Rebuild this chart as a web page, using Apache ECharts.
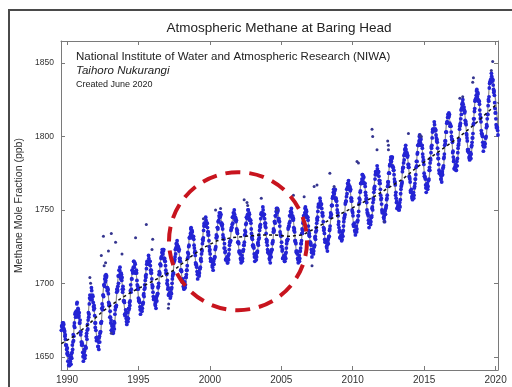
<!DOCTYPE html>
<html>
<head>
<meta charset="utf-8">
<script src="https://cdn.jsdelivr.net/npm/echarts@6/dist/echarts.min.js"></script>
<style>html,body{margin:0;padding:0;background:#fff}#chart{width:512px;height:387px}</style>
</head>
<body>
<div id="chart"></div>
<script>
const FONT = '"Liberation Sans", Arial, Helvetica, sans-serif'
const BLUE = '#2424d4', OUT = '#35358f', FIT = '#8c8c8c', AXIS = '#7a7a7a', RED = '#c8141e'

const xTicks = [1990, 1995, 2000, 2005, 2010, 2015, 2020]
const yTicks = [1650, 1700, 1750, 1800, 1850]

// flask samples, two sets of 24 per year (about weekly in total); first row is 1989 (record starts Aug 1989)
const firstYear = 1989
const flaskRows = [
  [null,null,null,null,null,null,null,null,null,null,null,null,null,null,1668,1671,1673,1670,1672,1668,1664,1662,1658,1655],
  [1656,1647,1651,1645,1644,1647,1645,1652,1653,1655,1665,1664,1673,1679,1677,1681,1686,1679,1683,1677,1680,1673,1667,1667],
  [1658,1659,1653,1647,1653,1654,1651,1656,1664,1662,1672,1675,1677,1686,1692,1689,1689,1695,1691,1691,1684,1685,1678,1670],
  [1668,1661,1663,1662,1657,1655,1664,1666,1667,1673,1683,1682,1692,1691,1699,1703,1701,1706,1705,1695,1695,1693,1685,1685],
  [1681,1673,1668,1671,1671,1666,1671,1669,1679,1684,1684,1694,1696,1698,1700,1709,1709,1707,1703,1706,1704,1694,1696,1688],
  [1687,1678,1682,1676,1672,1677,1674,1683,1683,1685,1695,1694,1703,1709,1707,1711,1715,1708,1713,1707,1709,1702,1696,1696],
  [1688,1688,1684,1679,1682,1683,1683,1686,1692,1691,1699,1702,1704,1710,1715,1714,1713,1717,1715,1715,1709,1709,1703,1697],
  [1694,1689,1690,1689,1685,1683,1691,1692,1693,1698,1706,1706,1713,1712,1718,1721,1720,1723,1723,1716,1715,1712,1707,1706],
  [1702,1696,1692,1693,1693,1690,1694,1693,1700,1705,1707,1714,1716,1718,1720,1727,1727,1726,1723,1724,1723,1715,1715,1709],
  [1708,1701,1703,1698,1696,1699,1697,1704,1706,1709,1717,1718,1725,1731,1731,1734,1738,1733,1735,1731,1732,1726,1721,1719],
  [1713,1712,1708,1703,1706,1707,1707,1710,1716,1715,1723,1727,1729,1736,1741,1740,1739,1743,1741,1741,1735,1735,1729,1722],
  [1720,1715,1715,1715,1711,1709,1716,1717,1718,1724,1731,1731,1738,1737,1742,1746,1745,1748,1747,1740,1739,1737,1731,1730],
  [1727,1721,1716,1717,1717,1714,1717,1716,1723,1728,1729,1736,1738,1740,1741,1748,1748,1747,1743,1744,1743,1735,1734,1728],
  [1727,1721,1722,1717,1714,1717,1715,1722,1723,1726,1733,1733,1740,1745,1744,1747,1750,1745,1747,1743,1743,1737,1731,1730],
  [1725,1725,1720,1715,1718,1719,1718,1721,1727,1726,1733,1736,1738,1744,1748,1747,1746,1750,1747,1747,1741,1741,1734,1728],
  [1726,1721,1721,1720,1716,1714,1721,1722,1723,1728,1735,1735,1742,1741,1746,1749,1748,1751,1750,1743,1742,1739,1733,1732],
  [1728,1722,1717,1718,1718,1715,1718,1717,1724,1729,1730,1737,1739,1741,1742,1749,1749,1748,1744,1745,1744,1736,1735,1729],
  [1727,1721,1722,1717,1714,1717,1715,1722,1724,1727,1734,1734,1741,1746,1745,1748,1752,1747,1749,1745,1745,1739,1733,1732],
  [1727,1727,1723,1718,1721,1722,1722,1725,1731,1730,1738,1741,1743,1749,1754,1753,1752,1756,1754,1754,1748,1748,1742,1736],
  [1734,1728,1729,1728,1724,1722,1730,1731,1732,1737,1745,1746,1753,1753,1759,1762,1761,1764,1764,1757,1756,1753,1748,1746],
  [1742,1735,1731,1732,1732,1729,1733,1732,1739,1744,1746,1754,1756,1759,1761,1768,1768,1767,1764,1765,1764,1756,1756,1749],
  [1746,1739,1741,1736,1733,1736,1735,1742,1743,1746,1754,1755,1762,1768,1768,1771,1774,1769,1772,1768,1768,1762,1757,1755],
  [1748,1747,1743,1738,1741,1742,1742,1745,1751,1750,1758,1762,1764,1771,1776,1775,1774,1778,1776,1776,1770,1770,1764,1757],
  [1754,1748,1749,1748,1744,1742,1750,1751,1753,1758,1766,1767,1775,1775,1781,1784,1783,1786,1786,1779,1777,1774,1769,1767],
  [1762,1755,1751,1752,1753,1750,1753,1752,1761,1766,1768,1776,1779,1782,1784,1791,1792,1791,1787,1788,1787,1779,1779,1772],
  [1769,1762,1764,1759,1757,1760,1758,1765,1768,1771,1779,1780,1788,1794,1794,1797,1801,1796,1798,1794,1794,1788,1783,1781],
  [1773,1772,1767,1762,1766,1767,1766,1770,1777,1777,1785,1789,1792,1799,1805,1804,1804,1808,1805,1804,1799,1798,1792,1785],
  [1781,1775,1775,1774,1771,1769,1776,1778,1780,1786,1794,1795,1803,1803,1810,1813,1813,1816,1815,1807,1807,1803,1798,1796],
  [1790,1783,1778,1779,1780,1777,1780,1780,1789,1794,1797,1805,1808,1812,1815,1822,1823,1822,1818,1818,1817,1809,1808,1801],
  [1797,1790,1791,1786,1784,1787,1785,1793,1796,1799,1808,1809,1817,1824,1825,1828,1832,1827,1829,1824,1824,1818,1812,1810],
  [1802,1801,1796,1790,1794,1795,1795,1799,1806,1807,1815,1821,1824,1833,1837,1838,1837,1841,1839,1838,1832,1831,1823,1816],
  [1812,1806,1806,1804,1801]
]
// second set, sampled between the first
const flaskRowsB = [
  [null,null,null,null,null,null,null,null,null,null,null,null,null,null,null,1671,1670,1671,1673,1669,1667,1665,1658,1658],
  [1652,1653,1651,1644,1645,1649,1645,1650,1649,1658,1660,1661,1671,1670,1680,1680,1680,1687,1679,1682,1678,1673,1675,1665],
  [1660,1660,1658,1650,1651,1655,1649,1657,1656,1666,1668,1669,1680,1679,1690,1690,1690,1697,1689,1692,1687,1682,1683,1673],
  [1673,1663,1663,1663,1657,1660,1663,1660,1667,1673,1674,1686,1684,1692,1699,1698,1705,1702,1704,1697,1697,1696,1687,1686],
  [1677,1677,1675,1668,1669,1672,1667,1674,1673,1682,1684,1685,1696,1695,1705,1705,1705,1711,1704,1707,1702,1696,1698,1688],
  [1688,1679,1679,1680,1674,1676,1680,1676,1682,1687,1688,1699,1696,1703,1709,1708,1715,1711,1714,1707,1708,1707,1699,1698],
  [1690,1689,1687,1682,1682,1684,1681,1686,1687,1693,1696,1697,1705,1706,1713,1714,1715,1719,1714,1715,1712,1707,1707,1699],
  [1698,1691,1690,1690,1686,1687,1690,1688,1693,1697,1700,1708,1707,1713,1717,1718,1723,1720,1722,1717,1717,1715,1709,1707],
  [1700,1699,1697,1692,1692,1694,1691,1696,1697,1703,1706,1707,1715,1716,1723,1724,1725,1729,1724,1725,1722,1717,1717,1709],
  [1709,1702,1701,1701,1697,1699,1701,1699,1704,1709,1712,1721,1720,1726,1731,1732,1737,1735,1736,1731,1731,1730,1724,1722],
  [1714,1713,1711,1706,1706,1708,1705,1710,1711,1717,1720,1722,1730,1731,1739,1740,1741,1745,1740,1741,1738,1733,1733,1725],
  [1723,1717,1716,1716,1712,1713,1715,1713,1718,1723,1725,1733,1732,1738,1742,1743,1748,1745,1746,1741,1741,1740,1733,1731],
  [1724,1724,1722,1716,1716,1718,1714,1719,1720,1726,1728,1729,1737,1738,1745,1745,1746,1750,1744,1745,1742,1737,1736,1728],
  [1728,1722,1721,1720,1716,1717,1719,1717,1722,1726,1728,1736,1735,1741,1745,1745,1750,1747,1748,1743,1743,1741,1734,1732],
  [1726,1726,1724,1718,1718,1720,1716,1721,1722,1728,1730,1731,1739,1740,1747,1747,1748,1752,1746,1747,1744,1739,1738,1730],
  [1729,1723,1722,1721,1717,1718,1720,1718,1723,1727,1729,1737,1736,1742,1746,1746,1751,1748,1749,1744,1744,1742,1735,1733],
  [1725,1725,1723,1717,1717,1719,1715,1720,1721,1727,1729,1730,1738,1739,1746,1746,1747,1751,1745,1746,1743,1738,1737,1729],
  [1728,1722,1721,1720,1716,1717,1719,1717,1722,1727,1729,1737,1736,1742,1746,1746,1751,1749,1750,1745,1745,1743,1736,1734],
  [1728,1728,1726,1721,1721,1723,1720,1725,1726,1732,1735,1736,1744,1745,1752,1753,1754,1758,1753,1754,1751,1746,1746,1738],
  [1737,1730,1729,1729,1725,1726,1729,1727,1732,1736,1739,1748,1747,1753,1758,1759,1764,1761,1763,1758,1758,1756,1750,1748],
  [1740,1738,1736,1731,1731,1733,1730,1735,1736,1742,1745,1747,1755,1756,1764,1765,1766,1770,1765,1766,1763,1758,1758,1750],
  [1748,1740,1739,1739,1735,1736,1739,1737,1742,1746,1749,1758,1757,1763,1768,1769,1774,1771,1773,1768,1768,1766,1760,1758],
  [1750,1748,1746,1741,1741,1743,1740,1745,1746,1752,1755,1757,1765,1766,1774,1775,1776,1780,1775,1776,1773,1768,1768,1760],
  [1758,1750,1749,1749,1745,1746,1749,1747,1752,1757,1760,1769,1769,1775,1780,1781,1786,1783,1785,1780,1779,1777,1771,1769],
  [1760,1758,1756,1751,1751,1754,1750,1755,1757,1764,1767,1769,1778,1779,1787,1788,1789,1794,1788,1789,1786,1781,1781,1773],
  [1771,1763,1762,1762,1758,1760,1762,1760,1766,1771,1774,1783,1783,1789,1794,1795,1800,1798,1799,1794,1794,1792,1786,1784],
  [1775,1773,1771,1765,1765,1768,1764,1770,1771,1779,1782,1784,1793,1794,1803,1804,1805,1810,1804,1805,1801,1797,1796,1788],
  [1785,1777,1776,1775,1771,1773,1775,1774,1779,1785,1788,1797,1797,1803,1809,1810,1815,1813,1814,1809,1808,1807,1800,1798],
  [1789,1786,1784,1778,1778,1781,1777,1783,1785,1792,1795,1798,1807,1809,1818,1819,1820,1825,1819,1820,1816,1811,1810,1802],
  [1799,1791,1790,1789,1785,1787,1789,1788,1794,1799,1802,1812,1812,1819,1825,1826,1831,1829,1830,1825,1824,1822,1815,1813],
  [1804,1802,1800,1794,1793,1796,1793,1799,1800,1808,1812,1815,1825,1827,1836,1837,1839,1843,1838,1839,1835,1830,1828,1819],
  [1816,1808,1807,1806,1801]
]

// samples well off the seasonal cycle
const outlierDates  = [1991.6, 1991.65, 1992.4, 1992.55, 1992.6, 1992.7, 1992.9, 1993.1, 1993.1, 1993.4, 1993.85, 1994.8, 1995.55, 1995.95, 1996.0, 1997.1, 1997.12, 1999.55, 2000.4, 2000.75, 2002.4, 2002.6, 2002.65, 2003.6, 2004.7, 2005.85, 2006.6, 2007.15, 2007.3, 2007.5, 2008.4, 2008.7, 2010.3, 2010.4, 2011.35, 2011.4, 2011.7, 2012.2, 2012.45, 2012.5, 2012.5, 2013.9, 2014.7, 2014.8, 2017.5, 2017.7, 2018.4, 2018.45, 2019.7, 2019.8]
const outlierValues = [1704, 1700, 1719, 1732, 1712, 1714, 1722, 1734, 1666, 1728, 1720, 1731, 1740, 1723, 1730, 1683, 1686, 1744, 1750, 1751, 1757, 1755, 1753, 1758, 1750, 1760, 1759, 1712, 1766, 1767, 1775, 1766, 1783, 1782, 1805, 1800, 1791, 1742, 1797, 1794, 1791, 1802, 1801, 1800, 1826, 1827, 1837, 1840, 1845, 1851]

// smooth seasonal fit: troughs (~March) 1990-2020, peaks (~September) 1989-2019
const fitTroughs = [1645, 1651, 1659, 1668, 1675, 1681, 1686, 1691, 1698, 1705, 1712, 1715, 1716, 1717, 1717, 1716, 1716, 1720, 1725, 1730, 1735, 1740, 1745, 1751, 1759, 1765, 1772, 1778, 1786, 1793, 1802]
const fitPeaks   = [1673, 1683, 1693, 1703, 1707, 1712, 1716, 1721, 1726, 1736, 1742, 1746, 1747, 1748, 1749, 1749, 1748, 1750, 1755, 1762, 1767, 1772, 1777, 1784, 1791, 1799, 1807, 1814, 1822, 1830, 1840]

// deseasonalised trend
const trendDates  = [1989.6, 1990.5, 1991.5, 1992.5, 1993.5, 1994.5, 1995.5, 1996.5, 1997.5, 1998.5, 1999.5, 2000.5, 2001.5, 2002.5, 2003.5, 2004.5, 2005.5, 2006.5, 2007.5, 2008.5, 2009.5, 2010.5, 2011.5, 2012.5, 2013.5, 2014.5, 2015.5, 2016.5, 2017.5, 2018.5, 2019.5, 2020.2]
const trendValues = [1659, 1664, 1672, 1681, 1688, 1694, 1699, 1704, 1709, 1717, 1724, 1729, 1731, 1732, 1733, 1733, 1732, 1733, 1738, 1744, 1749, 1754, 1759, 1765, 1771, 1779, 1786, 1793, 1800, 1808, 1817, 1823]

// dashed circle around the 2000-2006 plateau
const highlightCenter = [2001.97, 1728.7]
const highlightRadiusYears = 4.83

const flask = []
flaskRows.forEach((row, i) => row.forEach((v, k) => {
  if (v != null) flask.push([firstYear + i + (k + 0.5) / 24, v])
}))
flaskRowsB.forEach((row, i) => row.forEach((v, k) => {
  if (v != null) flask.push([firstYear + i + k / 24, v])
}))
const outliers = outlierDates.map((d, i) => [d, outlierValues[i]])
const fit = []
for (let y = 1989; y <= 2020; y++) {
  if (y >= 1990) fit.push([y + 0.2, fitTroughs[y - 1990]])
  if (y <= 2019) fit.push([y + 0.7, fitPeaks[y - 1989]])
}
const trend = trendDates.map((d, i) => [d, trendValues[i]])

const chart = echarts.init(document.getElementById('chart'), null, { renderer: 'canvas' })

const axisLine = { show: true, onZero: false, lineStyle: { color: AXIS, width: 1 } }
const tick = vals => ({ show: true, inside: true, length: 4, customValues: vals, lineStyle: { color: AXIS } })
const xRange = { min: 1989.58, max: 2020.17 }
const yRange = { min: 1641, max: 1865 }

chart.setOption({
  backgroundColor: '#fff',
  animation: false,
  grid: { left: 61, right: 14, top: 41, bottom: 17, outerBoundsMode: 'none' },
  xAxis: [
    {
      type: 'value', ...xRange, position: 'bottom',
      axisLine, axisTick: tick(xTicks),
      axisLabel: { customValues: xTicks, fontSize: 10, color: '#333', margin: 5, fontFamily: FONT, formatter: v => String(v) },
      splitLine: { show: false },
    },
    {
      type: 'value', ...xRange, position: 'top',
      axisLine, axisTick: tick(xTicks), axisLabel: { show: false }, splitLine: { show: false },
    },
  ],
  yAxis: [
    {
      type: 'value', ...yRange, position: 'left',
      name: 'Methane Mole Fraction (ppb)', nameLocation: 'middle', nameGap: 28, nameRotate: 90,
      nameTextStyle: { fontSize: 10.5, color: '#333', fontFamily: FONT },
      axisLine, axisTick: tick(yTicks),
      axisLabel: { customValues: yTicks, fontSize: 8.5, color: '#333', margin: 7, fontFamily: FONT, formatter: v => String(v) },
      splitLine: { show: false },
    },
    {
      type: 'value', ...yRange, position: 'right',
      axisLine, axisTick: tick(yTicks), axisLabel: { show: false }, splitLine: { show: false },
    },
  ],
  series: [
    { type: 'line', data: fit, smooth: 0.5, showSymbol: false, lineStyle: { color: FIT, width: 1.2 }, z: 1, silent: true },
    { type: 'scatter', data: flask, symbolSize: 3.8, itemStyle: { color: BLUE, opacity: 1, borderWidth: 0 }, z: 2, silent: true, large: false },
    { type: 'scatter', data: outliers, symbolSize: 3, itemStyle: { color: OUT, opacity: 1, borderWidth: 0 }, z: 2, silent: true },
    { type: 'line', data: trend, showSymbol: false, lineStyle: { color: '#111', width: 1.5, type: [3, 3] }, z: 4, silent: true },
  ],
  tooltip: { show: false },
})

const c = chart.convertToPixel({ gridIndex: 0 }, highlightCenter)
const e = chart.convertToPixel({ gridIndex: 0 }, [highlightCenter[0] + highlightRadiusYears, highlightCenter[1]])
const txt = (x, y, text, font, align) => ({
  type: 'text', x, y, silent: true,
  style: { text, font, fill: '#222', textAlign: align, align, textVerticalAlign: 'middle', verticalAlign: 'middle' },
})

chart.setOption({
  graphic: [
    { type: 'rect', shape: { x: 9, y: 10, width: 520, height: 400 }, style: { fill: 'none', stroke: '#4a4a4a', lineWidth: 2 }, silent: true },
    txt(279, 28, 'Atmospheric Methane at Baring Head', '13.5px ' + FONT, 'center'),
    txt(76, 57, 'National Institute of Water and Atmospheric Research (NIWA)', '11.5px ' + FONT, 'left'),
    txt(76, 71, 'Taihoro Nukurangi', 'italic 11.5px ' + FONT, 'left'),
    txt(76, 85, 'Created June 2020', '9px ' + FONT, 'left'),
    {
      type: 'circle', silent: true, z: 100,
      shape: { cx: c[0], cy: c[1], r: e[0] - c[0] },
      style: { fill: 'none', stroke: RED, lineWidth: 4, lineDash: [15, 9] },
    },
  ],
})
</script>
</body>
</html>
